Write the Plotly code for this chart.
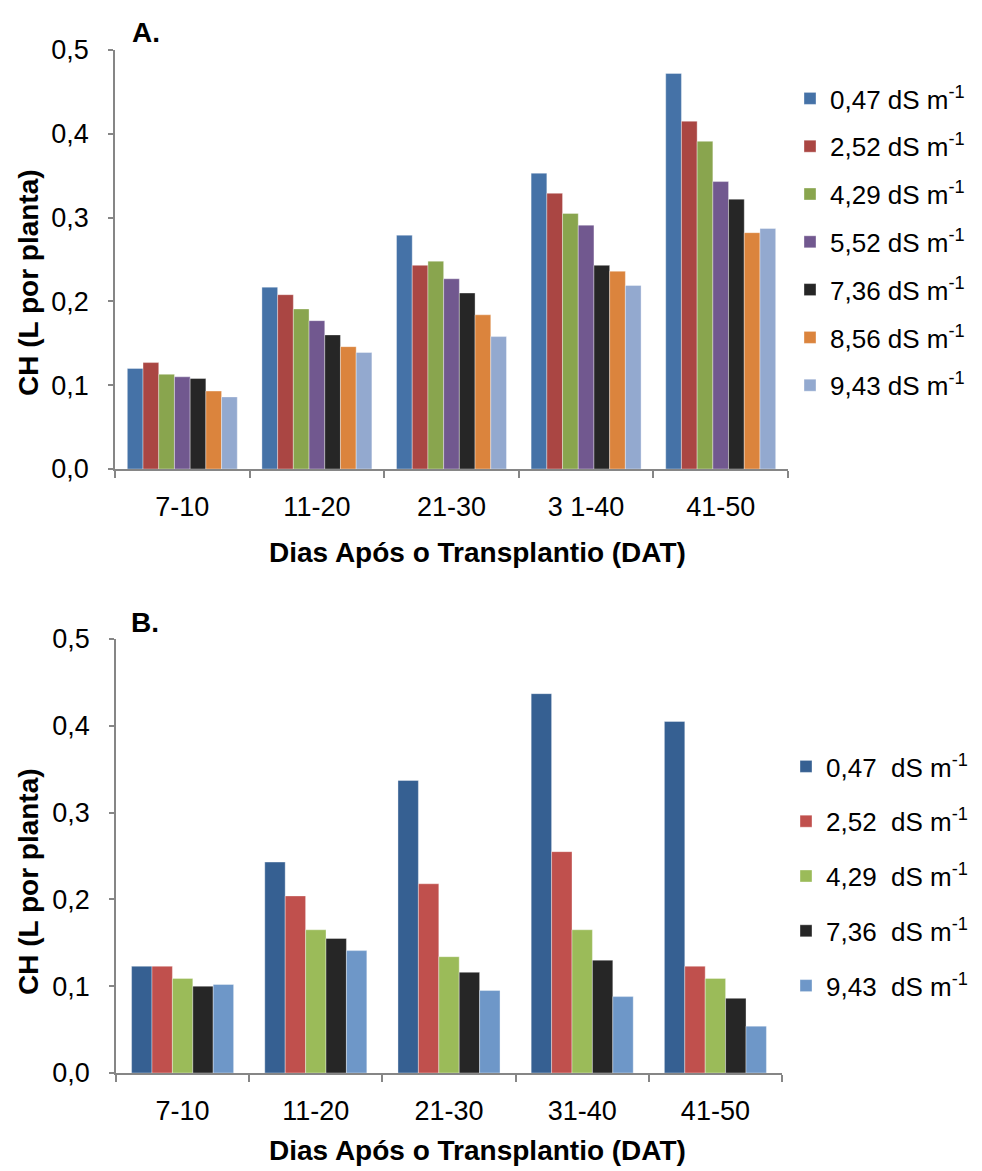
import plotly.graph_objects as go

categories_a = ["7-10", "11-20", "21-30", "3 1-40", "41-50"]
categories_b = ["7-10", "11-20", "21-30", "31-40", "41-50"]

labels_a = ["0,47", "2,52", "4,29", "5,52", "7,36", "8,56", "9,43"]
colors_a = ["#4572A7", "#AA4643", "#89A54E", "#71588F", "#262626", "#DB843D", "#93A9CF"]
values_a = [
    [0.120, 0.217, 0.279, 0.353, 0.472],  # 0,47
    [0.127, 0.208, 0.243, 0.329, 0.415],  # 2,52
    [0.113, 0.191, 0.248, 0.305, 0.391],  # 4,29
    [0.110, 0.177, 0.227, 0.291, 0.343],  # 5,52
    [0.108, 0.160, 0.210, 0.243, 0.322],  # 7,36
    [0.093, 0.146, 0.184, 0.236, 0.282],  # 8,56
    [0.086, 0.139, 0.158, 0.219, 0.287],  # 9,43
]

labels_b = ["0,47", "2,52", "4,29", "7,36", "9,43"]
colors_b = ["#366092", "#C0504D", "#9BBB59", "#262626", "#6E97C8"]
values_b = [
    [0.123, 0.243, 0.337, 0.437, 0.405],  # 0,47
    [0.123, 0.204, 0.218, 0.255, 0.123],  # 2,52
    [0.109, 0.165, 0.134, 0.165, 0.109],  # 4,29
    [0.100, 0.155, 0.116, 0.130, 0.086],  # 7,36
    [0.102, 0.141, 0.095, 0.088, 0.054],  # 9,43
]

FONT = "Liberation Sans, Arial, sans-serif"
W, H = 982, 1171

fig = go.Figure()

def add_group(labels, colors, values, cats, xa, ya, leg, total, sep):
    n = len(labels)
    w = total / n
    for i, (lab, col, vals) in enumerate(zip(labels, colors, values)):
        fig.add_trace(go.Bar(
            x=cats, y=vals, name=f"{lab}{sep}dS m<sup>-1</sup>",
            width=w, offset=-total / 2 + i * w,
            marker=dict(color=col, line=dict(width=0.6, color="rgba(255,255,255,0.6)")),
            xaxis=xa, yaxis=ya, legend=leg, legendgroup=leg + lab,
        ))

add_group(labels_a, colors_a, values_a, categories_a, "x", "y", "legend", 0.817, " ")
add_group(labels_b, colors_b, values_b, categories_b, "x2", "y2", "legend2", 0.766, "  ")

def px_x(v):
    return v / W

def px_y(v):
    return 1 - v / H

TICK = 27
axis_common = dict(
    showline=True, linecolor="#868686", linewidth=1.5,
    ticks="outside", tickcolor="#868686", tickwidth=1.5,
    showgrid=False, zeroline=False, automargin=False,
    tickfont=dict(family=FONT, size=TICK, color="black"),
)

fig.update_layout(
    template="none",
    width=W, height=H,
    margin=dict(l=0, r=0, t=0, b=0, pad=0, autoexpand=False),
    paper_bgcolor="white", plot_bgcolor="white",
    separators=", ",
    barmode="group",
    font=dict(family=FONT, color="black"),
    xaxis=dict(domain=[px_x(115), px_x(788)], anchor="y", type="category",
               tickson="boundaries", ticklen=7, ticklabelstandoff=13, **axis_common),
    yaxis=dict(domain=[px_y(469), px_y(50)], anchor="x", range=[0, 0.5], dtick=0.1,
               tickformat=".1f", ticklen=5, ticklabelstandoff=14, **axis_common),
    xaxis2=dict(domain=[px_x(116), px_x(782)], anchor="y2", type="category",
                tickson="boundaries", ticklen=7, ticklabelstandoff=13, **axis_common),
    yaxis2=dict(domain=[px_y(1073), px_y(639)], anchor="x2", range=[0, 0.5], dtick=0.1,
                tickformat=".1f", ticklen=5, ticklabelstandoff=14, **axis_common),
    legend=dict(x=px_x(790), y=px_y(75), xanchor="left", yanchor="top",
                font=dict(family=FONT, size=26, color="black"),
                tracegroupgap=11, bgcolor="rgba(0,0,0,0)"),
    legend2=dict(x=px_x(786), y=px_y(743), xanchor="left", yanchor="top",
                 font=dict(family=FONT, size=26, color="black"),
                 tracegroupgap=18, bgcolor="rgba(0,0,0,0)"),
)

annotations = [
    dict(text="<b>A.</b>", x=px_x(130), y=px_y(33), xanchor="left", yanchor="middle",
         font=dict(size=28)),
    dict(text="<b>B.</b>", x=px_x(129), y=px_y(622), xanchor="left", yanchor="middle",
         font=dict(size=28)),
    dict(text="<b>CH (L por planta)</b>", x=px_x(28), y=px_y(283), textangle=-90,
         xanchor="center", yanchor="middle", font=dict(size=28)),
    dict(text="<b>CH (L por planta)</b>", x=px_x(28), y=px_y(882), textangle=-90,
         xanchor="center", yanchor="middle", font=dict(size=28)),
    dict(text="<b>Dias Após o Transplantio (DAT)</b>", x=px_x(477), y=px_y(552),
         xanchor="center", yanchor="middle", font=dict(size=28)),
    dict(text="<b>Dias Após o Transplantio (DAT)</b>", x=px_x(477), y=px_y(1150),
         xanchor="center", yanchor="middle", font=dict(size=28)),
]
for a in annotations:
    a.update(xref="paper", yref="paper", showarrow=False)
    a["font"]["family"] = FONT
    a["font"]["color"] = "black"
fig.update_layout(annotations=annotations)

fig.write_html("out.html")
